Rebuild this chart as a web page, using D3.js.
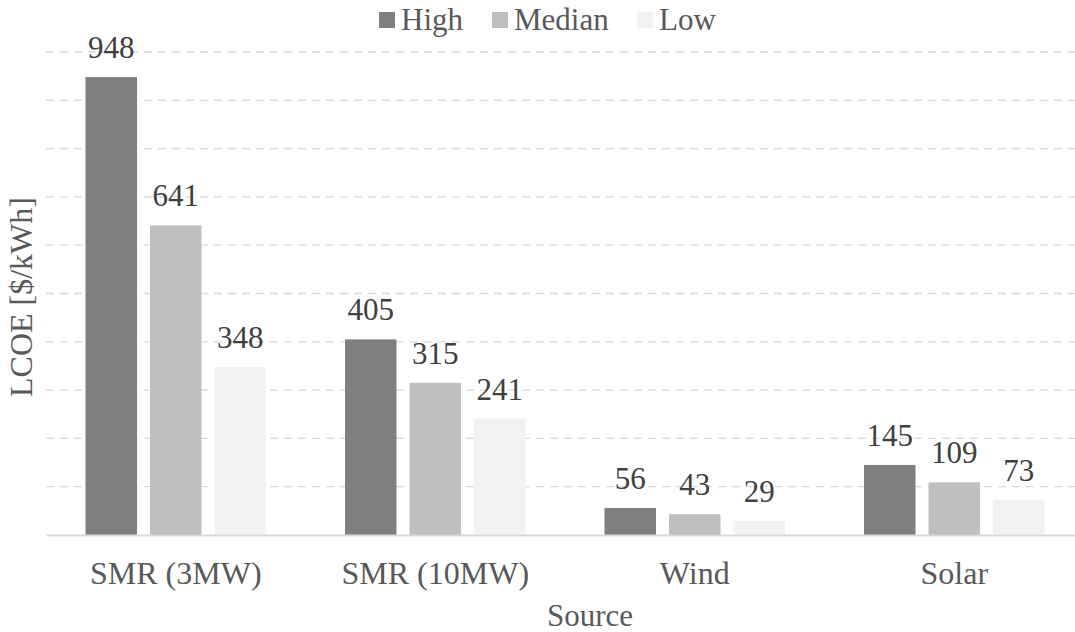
<!DOCTYPE html>
<html><head><meta charset="utf-8">
<script src="https://cdn.jsdelivr.net/npm/d3@7"></script>
</head>
<body style="margin:0">
<svg id="chart" width="1075" height="632" font-family="Liberation Serif, Tinos, Times New Roman, serif" style="display:block"></svg>
<script>
const categories = ["SMR (3MW)", "SMR (10MW)", "Wind", "Solar"];
const seriesNames = ["High", "Median", "Low"];
const highValues = [948, 405, 56, 145];
const medianValues = [641, 315, 43, 109];
const lowValues = [348, 241, 29, 73];
const yTicks = [0,100,200,300,400,500,600,700,800,900,1000];
const colors = ["#7f7f7f", "#bfbfbf", "#f2f2f2"];

const seriesValues = [highValues, medianValues, lowValues];
const svg = d3.select("#chart");
const textColor = "#595959";
const FONT = "Liberation Serif, Tinos, Times New Roman, serif";

const x0 = d3.scaleBand().domain(categories).range([46, 1084]).paddingInner(0).paddingOuter(0);
const x1 = d3.scaleBand().domain(seriesNames).range([39.5, 220]).paddingInner(0.2016).paddingOuter(0);
const y = d3.scaleLinear().domain([0, 1000]).range([535, 52]);

// gridlines
svg.append("g").selectAll("line").data(yTicks.filter(d => d > 0)).join("line")
  .attr("x1", 46).attr("x2", 1084)
  .attr("y1", d => y(d)).attr("y2", d => y(d))
  .attr("stroke", "#d9d9d9").attr("stroke-width", 1.3).attr("stroke-dasharray", "8,6");

// bars
const groups = svg.append("g").selectAll("g").data(categories).join("g")
  .attr("transform", d => `translate(${x0(d)},0)`);
groups.selectAll("rect").data((c, i) => seriesNames.map((s, j) => ({s, v: seriesValues[j][i], j})))
  .join("rect")
  .attr("x", d => x1(d.s)).attr("width", x1.bandwidth())
  .attr("y", d => y(d.v)).attr("height", d => y(0) - y(d.v))
  .attr("fill", d => colors[d.j]);
groups.selectAll("text").data((c, i) => seriesNames.map((s, j) => ({s, v: seriesValues[j][i], j})))
  .join("text")
  .attr("x", d => x1(d.s) + x1.bandwidth()/2).attr("y", d => y(d.v) - 19)
  .attr("text-anchor", "middle").attr("fill", "#404040")
  .attr("font-family", FONT).style("font-family", FONT).attr("font-size", 31)
  .text(d => d.v);

// baseline / x axis
const xAxis = svg.append("g").attr("transform", `translate(0,${y(0)})`)
  .call(d3.axisBottom(x0).tickSize(0).tickPadding(0));
xAxis.attr("font-family", FONT).attr("font-size", 32);
xAxis.select(".domain").attr("stroke", "#d9d9d9").attr("stroke-width", 2);
xAxis.selectAll("text").attr("fill", textColor)
  .attr("font-family", FONT).style("font-family", FONT).attr("font-size", 32)
  .attr("dy", null).attr("y", 49);

// axis titles
svg.append("text").attr("x", (46+1084)/2 + 25).attr("y", 626).attr("text-anchor", "middle")
  .attr("font-family", FONT).style("font-family", FONT).attr("font-size", 31).attr("fill", textColor).text("Source");
svg.append("text").attr("transform", "translate(32,297) rotate(-90)").attr("text-anchor", "middle")
  .attr("font-family", FONT).style("font-family", FONT).attr("font-size", 32).attr("fill", textColor).text("LCOE [$/kWh]");

// legend
const legendX = [379, 492, 637];
const lg = svg.append("g").selectAll("g").data(seriesNames).join("g")
  .attr("transform", (d, i) => `translate(${legendX[i]},0)`);
lg.append("rect").attr("x", 0).attr("y", 12).attr("width", 16).attr("height", 16)
  .attr("fill", (d, i) => colors[i]);
lg.append("text").attr("x", 22).attr("y", 30)
  .attr("font-family", FONT).style("font-family", FONT).attr("font-size", 31).attr("fill", textColor).text(d => d);
</script>
</body></html>
